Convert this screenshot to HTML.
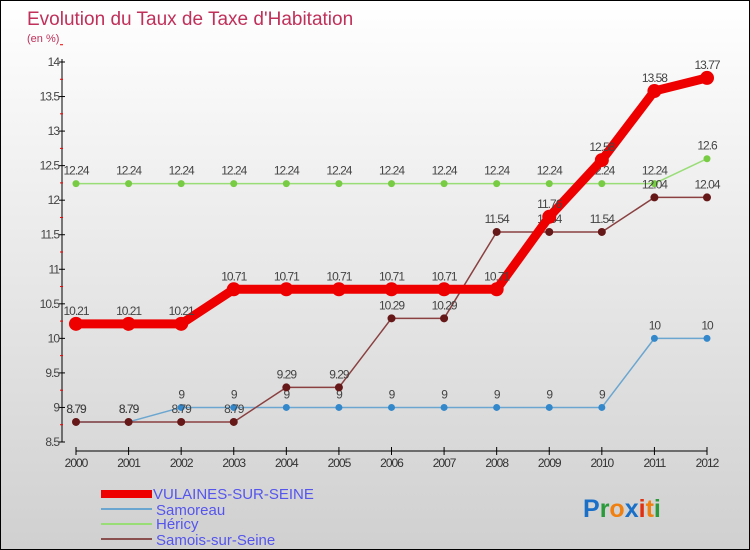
<!DOCTYPE html>
<html><head><meta charset="utf-8"><style>
body{margin:0;}
#wrap{position:relative;width:750px;height:550px;box-sizing:border-box;border:1px solid #000;background:linear-gradient(#fff,#d0d0d0);font-family:"Liberation Sans",sans-serif;overflow:hidden}
svg text{font-family:"Liberation Sans",sans-serif}
</style></head><body>
<div id="wrap">
<svg id="c" width="750" height="550">
<text x="26" y="24" font-size="19" fill="#c0305a">Evolution du Taux de Taxe d'Habitation</text>
<text x="26" y="41" font-size="11" fill="#c0305a">(en %)</text>
<text x="152" y="498" font-size="15" fill="#5555ee">VULAINES-SUR-SEINE</text>
<text x="155" y="514" font-size="15" fill="#5555ee">Samoreau</text>
<text x="155" y="528" font-size="15" fill="#5555ee">Héricy</text>
<text x="155" y="544" font-size="15" fill="#5555ee">Samois-sur-Seine</text>
<rect x="100" y="489" width="51" height="8" fill="#ee0000"/>
<line x1="100" y1="508" x2="151" y2="508" stroke="#6aa6d0" stroke-width="2"/>
<line x1="100" y1="523" x2="151" y2="523" stroke="#99dd77" stroke-width="2"/>
<line x1="100" y1="538" x2="151" y2="538" stroke="#8a5050" stroke-width="2"/>
<text x="582" y="516" font-size="25" font-weight="bold"><tspan fill="#1a70c8">P</tspan><tspan fill="#2a9a3a">r</tspan><tspan fill="#f08010">o</tspan><tspan fill="#1a70c8">x</tspan><tspan fill="#e03010">i</tspan><tspan fill="#f08010">t</tspan><tspan fill="#2a9a3a">i</tspan></text>
</svg>
</div>
<script>
const years=[2000,2001,2002,2003,2004,2005,2006,2007,2008,2009,2010,2011,2012];
const vulaines=[10.21,10.21,10.21,10.71,10.71,10.71,10.71,10.71,10.71,11.76,12.58,13.58,13.77];
const samoreau=[8.79,8.79,9,9,9,9,9,9,9,9,9,10,10];
const hericy=[12.24,12.24,12.24,12.24,12.24,12.24,12.24,12.24,12.24,12.24,12.24,12.24,12.6];
const samois=[8.79,8.79,8.79,8.79,9.29,9.29,10.29,10.29,11.54,11.54,11.54,12.04,12.04];
const yTicks=[8.5,9,9.5,10,10.5,11,11.5,12,12.5,13,13.5,14];
const NS="http://www.w3.org/2000/svg";
const svg=document.getElementById('c');
const xs=i=>75+i*(706-75)/12;
const ys=v=>61+(14-v)*(441-61)/5.5;
function el(t,a,p){const e=document.createElementNS(NS,t);for(const k in a)e.setAttribute(k,a[k]);(p||svg).appendChild(e);return e;}
// axes
let ax=el('line',{x1:61,y1:58,x2:61,y2:441,stroke:'#000'});


let bx=el('line',{x1:75,y1:450,x2:706,y2:450,stroke:'#000'});


yTicks.forEach(v=>{
 el('line',{x1:58,y1:ys(v),x2:64,y2:ys(v),stroke:'#000'});
 el('line',{x1:59,y1:ys(v+0.25),x2:62,y2:ys(v+0.25),stroke:'#e00'});
 const t=el('text',{x:58,y:ys(v)+4,'font-size':12,fill:'#444','text-anchor':'end','letter-spacing':'-1'});
 t.textContent=v;
 
 
});
years.forEach((y,i)=>{
 el('line',{x1:xs(i),y1:446,x2:xs(i),y2:454,stroke:'#000'});
 const t=el('text',{x:xs(i),y:466,'font-size':12,fill:'#333','text-anchor':'middle','letter-spacing':'-1'});
 t.textContent=y;
 
 
});
function series(data,color,w,r,dot,name){
 const pts=data.map((v,i)=>xs(i)+','+ys(v)).join(' ');
 const l=el('polyline',{points:pts,fill:'none',stroke:color,'stroke-width':w,'stroke-linejoin':'round'});
 
 
 data.forEach((v,i)=>{
  const c=el('circle',{cx:xs(i),cy:ys(v),r:r,fill:dot});
  
  
  const t=el('text',{x:xs(i),y:ys(v)-9,'font-size':12,fill:'#444','text-anchor':'middle','letter-spacing':'-1'});
  t.textContent=v;
  
  
 });
}
series(hericy,'#99dd77',1.5,3.5,'#77cc44','hericy');
series(samoreau,'#6aa6d0',1.5,3.5,'#3388cc','samoreau');
series(samois,'#8a4040',1.5,4,'#661818','samois');
series(vulaines,'#ee0000',9,7,'#ee0000','vulaines');
</script>
</body></html>
